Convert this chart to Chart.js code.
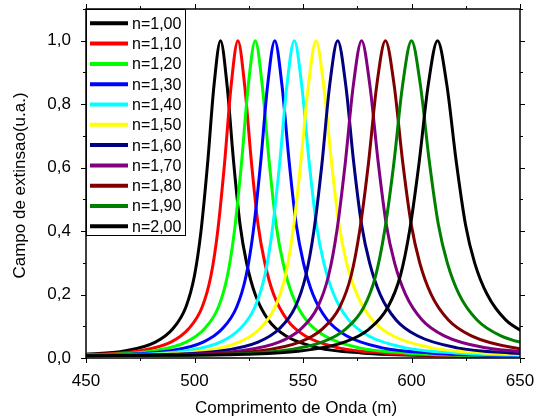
<!DOCTYPE html>
<html>
<head>
<meta charset="utf-8">
<script src="https://cdn.jsdelivr.net/npm/chart.js@4/dist/chart.umd.min.js"></script>
<style>
  html, body { margin: 0; padding: 0; background: #fff; }
  #wrap { width: 535px; height: 420px; }
</style>
</head>
<body>
<div id="wrap"><canvas id="c" width="535" height="420"></canvas></div>
<script>
// ---- data ----
const SERIES_NAMES = ["n=1,00","n=1,10","n=1,20","n=1,30","n=1,40","n=1,50","n=1,60","n=1,70","n=1,80","n=1,90","n=2,00"];
const SERIES_COLORS = ["#000000","#ff0000","#00ff00","#0000ff","#00ffff","#ffff00","#000080","#800080","#800000","#008000","#000000"];

const X_TICKS = [450, 500, 550, 600, 650];
const Y_TICKS = [0, 0.2, 0.4, 0.6, 0.8, 1.0];

const wl_100 = [450, 467, 482, 490, 496, 500, 503, 506, 509, 512, 515, 518, 521, 524, 528, 534, 542, 557, 577, 612, 652];
const ext_100 = [0.012, 0.021, 0.05, 0.092, 0.16, 0.26, 0.40, 0.61, 0.86, 1, 0.86, 0.62, 0.42, 0.30, 0.20, 0.12, 0.07, 0.032, 0.016, 0.007, 0.004];

const wl_110 = [416.9, 456.1, 473.6, 489.1, 497.3, 503.5, 507.6, 510.7, 513.8, 516.9, 520, 523.1, 526.2, 529.3, 532.4, 536.5, 542.7, 550.9, 566.4, 587, 623.1, 664.3];
const ext_110 = [0.008, 0.012, 0.021, 0.05, 0.092, 0.16, 0.26, 0.40, 0.61, 0.86, 1, 0.86, 0.62, 0.42, 0.30, 0.20, 0.12, 0.07, 0.032, 0.016, 0.007, 0.004];

const wl_120 = [421.7, 462.1, 480.2, 496.1, 504.6, 511, 515.2, 518.4, 521.6, 524.8, 528, 531.2, 534.4, 537.6, 540.8, 545, 551.4, 559.9, 575.8, 597.1, 634.3, 676.8];
const ext_120 = [0.008, 0.012, 0.021, 0.05, 0.092, 0.16, 0.26, 0.40, 0.61, 0.86, 1, 0.86, 0.62, 0.42, 0.30, 0.20, 0.12, 0.07, 0.032, 0.016, 0.007, 0.004];

const wl_130 = [427, 468.8, 487.5, 504, 512.8, 519.4, 523.8, 527.1, 530.4, 533.7, 537, 540.3, 543.6, 546.9, 550.2, 554.6, 561.2, 570, 586.5, 608.5, 647, 691];
const ext_130 = [0.008, 0.012, 0.021, 0.05, 0.092, 0.16, 0.26, 0.40, 0.61, 0.86, 1, 0.86, 0.62, 0.42, 0.30, 0.20, 0.12, 0.07, 0.032, 0.016, 0.007, 0.004];

const wl_140 = [432.3, 475.5, 494.8, 511.9, 521, 527.8, 532.4, 535.8, 539.2, 542.6, 546, 549.4, 552.8, 556.2, 559.6, 564.2, 571, 580.1, 597.2, 619.9, 659.7];
const ext_140 = [0.008, 0.012, 0.021, 0.05, 0.092, 0.16, 0.26, 0.40, 0.61, 0.86, 1, 0.86, 0.62, 0.42, 0.30, 0.20, 0.12, 0.07, 0.032, 0.016, 0.007];

const wl_150 = [438.1, 482.9, 502.9, 520.6, 530.1, 537.1, 541.9, 545.4, 548.9, 552.5, 556, 559.5, 563.1, 566.6, 570.1, 574.9, 581.9, 591.4, 609.1, 632.6, 673.9];
const ext_150 = [0.008, 0.012, 0.021, 0.05, 0.092, 0.16, 0.26, 0.40, 0.61, 0.86, 1, 0.86, 0.62, 0.42, 0.30, 0.20, 0.12, 0.07, 0.032, 0.016, 0.007];

const wl_160 = [443.8, 490.2, 511, 529.3, 539.1, 546.4, 551.3, 555, 558.7, 562.3, 566, 569.7, 573.3, 577, 580.7, 585.6, 592.9, 602.7, 621, 645.4, 688.2];
const ext_160 = [0.008, 0.012, 0.021, 0.05, 0.092, 0.16, 0.26, 0.40, 0.61, 0.86, 1, 0.86, 0.62, 0.42, 0.30, 0.20, 0.12, 0.07, 0.032, 0.016, 0.007];

const wl_170 = [386.5, 450, 498.3, 519.8, 538.9, 549.1, 556.7, 561.8, 565.6, 569.4, 573.2, 577, 580.8, 584.6, 588.4, 592.2, 597.3, 604.9, 615.1, 634.2, 659.6];
const ext_170 = [0.005, 0.008, 0.012, 0.021, 0.05, 0.092, 0.16, 0.26, 0.40, 0.61, 0.86, 1, 0.86, 0.62, 0.42, 0.30, 0.20, 0.12, 0.07, 0.032, 0.016];

const wl_180 = [390.1, 456.1, 506.2, 528.6, 548.4, 559, 566.9, 572.2, 576.1, 580.1, 584, 588, 592, 595.9, 599.9, 603.8, 609.1, 617, 627.6, 647.4, 673.7];
const ext_180 = [0.005, 0.008, 0.012, 0.021, 0.05, 0.092, 0.16, 0.26, 0.40, 0.61, 0.86, 1, 0.86, 0.62, 0.42, 0.30, 0.20, 0.12, 0.07, 0.032, 0.016];

const wl_190 = [394, 462.7, 514.9, 538.2, 558.8, 569.8, 578, 583.5, 587.6, 591.8, 595.9, 600, 604.1, 608.2, 612.4, 616.5, 622, 630.2, 641.2, 661.8];
const ext_190 = [0.005, 0.008, 0.012, 0.021, 0.05, 0.092, 0.16, 0.26, 0.40, 0.61, 0.86, 1, 0.86, 0.62, 0.42, 0.30, 0.20, 0.12, 0.07, 0.032];

const wl_200 = [397.6, 469.1, 523.4, 547.7, 569.1, 580.6, 589.1, 594.9, 599.1, 603.4, 607.7, 612, 616.3, 620.6, 624.9, 629.1, 634.9, 643.4, 654.9];
const ext_200 = [0.005, 0.008, 0.012, 0.021, 0.05, 0.092, 0.16, 0.26, 0.40, 0.61, 0.86, 1, 0.86, 0.62, 0.42, 0.30, 0.20, 0.12, 0.07];

const WAVELENGTHS = [wl_100, wl_110, wl_120, wl_130, wl_140, wl_150, wl_160, wl_170, wl_180, wl_190, wl_200];
const EXTINCTION  = [ext_100, ext_110, ext_120, ext_130, ext_140, ext_150, ext_160, ext_170, ext_180, ext_190, ext_200];

const X_TITLE = "Comprimento de Onda (m)";
const Y_TITLE = "Campo de extinsao(u.a.)";

// ---- chart ----
const FONT = "'Liberation Sans', Arial, sans-serif";
const fmt = v => v.toFixed(1).replace('.', ',');

const datasets = SERIES_NAMES.map((name, i) => ({
  label: name,
  data: WAVELENGTHS[i].map((x, k) => ({ x: x, y: EXTINCTION[i][k] })),
  borderColor: SERIES_COLORS[i],
  backgroundColor: SERIES_COLORS[i],
  borderWidth: 3,
  pointRadius: 0,
  fill: false,
  cubicInterpolationMode: 'monotone',
  clip: 0,
  order: SERIES_NAMES.length - i
}));

const framePlugin = {
  id: 'frame',
  afterDraw(chart) {
    const { ctx, chartArea: a, scales } = chart;
    const xs = scales.x, ys = scales.y;
    ctx.save();
    ctx.strokeStyle = '#000';
    ctx.lineWidth = 1.5;
    ctx.strokeRect(a.left, a.top, a.right - a.left, a.bottom - a.top);
    ctx.lineWidth = 1;
    ctx.beginPath();
    // x ticks (bottom & top), outward
    for (let v = xs.min; v <= xs.max + 1e-9; v += 25) {
      const px = Math.round(xs.getPixelForValue(v)) + 0.5;
      const major = Math.abs((v - 450) % 50) < 1e-6;
      const len = major ? 5 : 3;
      ctx.moveTo(px, a.bottom); ctx.lineTo(px, a.bottom + len);
      ctx.moveTo(px, a.top); ctx.lineTo(px, a.top - len);
    }
    // y ticks (left & right), outward
    for (let k = 0; k <= 11; k++) {
      const v = k / 10;
      const py = Math.round(ys.getPixelForValue(v)) + 0.5;
      const len = (k % 2 === 0) ? 5 : 3;
      ctx.moveTo(a.left, py); ctx.lineTo(a.left - len, py);
      ctx.moveTo(a.right, py); ctx.lineTo(a.right + len, py);
    }
    ctx.stroke();

    // legend box
    const lx = a.left, ly = a.top, lw = 99, lh = 226;
    ctx.fillStyle = '#fff';
    ctx.fillRect(lx, ly, lw, lh);
    ctx.lineWidth = 1;
    ctx.strokeStyle = '#000';
    ctx.strokeRect(lx + 0.5, ly + 0.5, lw, lh);
    ctx.font = '16px ' + FONT;
    ctx.textBaseline = 'middle';
    ctx.textAlign = 'left';
    SERIES_NAMES.forEach((name, i) => {
      const y = ly + 14.3 + i * 20.3;
      ctx.strokeStyle = SERIES_COLORS[i];
      ctx.lineWidth = 4;
      ctx.beginPath();
      ctx.moveTo(lx + 4, y); ctx.lineTo(lx + 42, y);
      ctx.stroke();
      ctx.fillStyle = '#000';
      ctx.fillText(name, lx + 46, y + 1);
    });

    // axis titles
    ctx.fillStyle = '#000';
    ctx.font = '17px ' + FONT;
    ctx.textAlign = 'center';
    ctx.textBaseline = 'middle';
    ctx.fillText(X_TITLE, 296, 408);
    ctx.save();
    ctx.translate(20, (a.top + a.bottom) / 2 + 2);
    ctx.rotate(-Math.PI / 2);
    ctx.fillText(Y_TITLE, 0, 0);
    ctx.restore();
    ctx.restore();
  }
};

new Chart(document.getElementById('c'), {
  type: 'line',
  data: { datasets },
  options: {
    responsive: false,
    animation: false,
    events: [],
    layout: { padding: { top: 9, right: 15, left: 0, bottom: 0 } },
    plugins: { legend: { display: false }, tooltip: { enabled: false } },
    scales: {
      x: {
        type: 'linear', min: 450, max: 650,
        afterBuildTicks: s => { s.ticks = X_TICKS.map(v => ({ value: v })); },
        afterFit: s => { s.height = 62; s.paddingLeft = 0; s.paddingRight = 0; },
        grid: { display: false },
        border: { display: false },
        ticks: { font: { family: FONT, size: 17 }, color: '#000', padding: 5, maxRotation: 0 }
      },
      y: {
        type: 'linear', min: 0, max: 1.1,
        afterBuildTicks: s => { s.ticks = Y_TICKS.map(v => ({ value: v })); },
        afterFit: s => { s.width = 86; s.paddingTop = 0; s.paddingBottom = 0; },
        grid: { display: false },
        border: { display: false },
        ticks: { font: { family: FONT, size: 17 }, color: '#000', padding: 7, callback: v => fmt(v) }
      }
    }
  },
  plugins: [framePlugin]
});
</script>
</body>
</html>
